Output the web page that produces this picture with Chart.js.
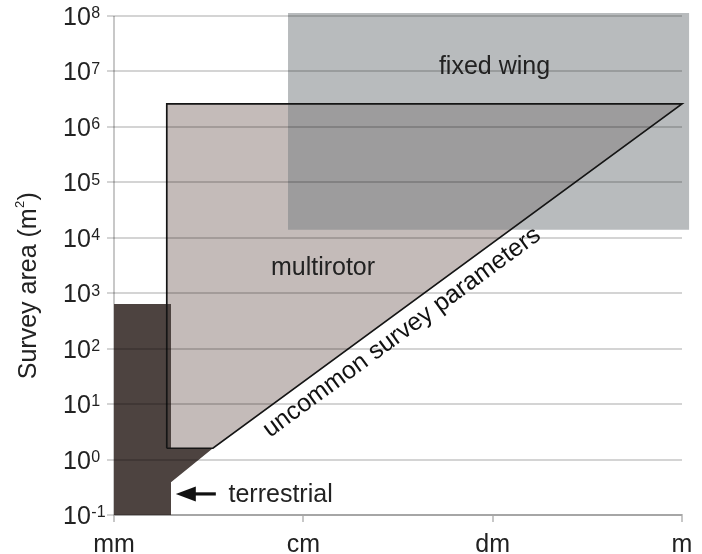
<!DOCTYPE html>
<html><head><meta charset="utf-8">
<script src="https://cdn.jsdelivr.net/npm/chart.js@4"></script>
<style>html,body{margin:0;padding:0;background:#fff}#wrap{width:702px;height:554px}</style>
</head><body><div id="wrap"><canvas id="c" width="702" height="554"></canvas></div>
<script>
// ---- data ----
const xTickValues = [1e-3, 1e-2, 1e-1, 1];
const xTickLabels = ['mm', 'cm', 'dm', 'm'];
const yTickValues = [1e-1, 1e0, 1e1, 1e2, 1e3, 1e4, 1e5, 1e6, 1e7, 1e8];
const yTickExponents = ['-1', '0', '1', '2', '3', '4', '5', '6', '7', '8'];

const terrestrialX = [1e-3, 1e-3, 2.0e-3, 2.0e-3, 3.33e-3, 2.0e-3, 2.0e-3, 1e-3];
const terrestrialY = [0.1, 640, 640, 1.6, 1.6, 0.39, 0.1, 0.1];
const multirotorX = [1.9e-3, 1.9e-3, 1, 3.33e-3, 1.9e-3];
const multirotorY = [1.6, 2.6e6, 2.6e6, 1.6, 1.6];
const fixedWingX = [8.3e-3, 8.3e-3, 1.09, 1.09, 8.3e-3];
const fixedWingY = [1.4e4, 1.13e8, 1.13e8, 1.4e4, 1.4e4];

const arrowX = [2.12e-3, 3.45e-3];
const arrowY = [0.24, 0.24];

const FONT = '"Liberation Sans", Arial, sans-serif';
Chart.defaults.font.family = FONT;

const pts = (xs, ys) => xs.map((x, i) => ({x: x, y: ys[i]}));

// let the fills reach slightly past the plot frame (fixed wing box overshoots)
const expandArea = {
  id: 'expandArea',
  beforeDatasetsDraw(chart) {
    const a = chart.chartArea;
    chart.$savedArea = a;
    chart.chartArea = {left: a.left - 10, top: a.top - 10, right: a.right + 14, bottom: a.bottom + 10,
      width: a.width + 24, height: a.height + 20};
  },
  afterDatasetsDraw(chart) {
    if (chart.$savedArea) chart.chartArea = chart.$savedArea;
  }
};

const annotations = {
  id: 'annotations',
  afterDraw(chart) {
    const ctx = chart.ctx;
    const xS = chart.scales.x, yS = chart.scales.y;
    ctx.save();
    ctx.fillStyle = '#222';
    ctx.textBaseline = 'alphabetic';
    // y tick labels 10^n
    const lx = yS.left - 44;
    yTickValues.forEach((v, i) => {
      const py = yS.getPixelForValue(v);
      ctx.font = '25px ' + FONT;
      ctx.textAlign = 'left';
      ctx.fillText('10', lx, py + 9);
      const w = ctx.measureText('10').width;
      ctx.font = '16px ' + FONT;
      ctx.fillText(yTickExponents[i], lx + w + 0.5, py + 2.3);
    });
    // y axis title
    ctx.save();
    ctx.translate(36, 286);
    ctx.rotate(-Math.PI / 2);
    ctx.font = '25px ' + FONT;
    const t1 = 'Survey area (m', t3 = ')';
    const w1 = ctx.measureText(t1).width, w3 = ctx.measureText(t3).width;
    ctx.font = '13px ' + FONT;
    const w2 = ctx.measureText('2').width;
    const start = -(w1 + w2 + w3) / 2;
    ctx.textAlign = 'left';
    ctx.font = '25px ' + FONT;
    ctx.fillText(t1, start, 0);
    ctx.fillText(t3, start + w1 + w2 + 0.5, 0);
    ctx.font = '13px ' + FONT;
    ctx.fillText('2', start + w1 + 0.3, -12.5);
    ctx.restore();

    // region labels
    ctx.font = '25px ' + FONT;
    ctx.textAlign = 'center';
    ctx.fillText('fixed wing', 494.5, 74);
    ctx.fillText('multirotor', 323, 275);
    ctx.textAlign = 'left';
    ctx.fillText('terrestrial', 228.5, 502);

    // arrow
    const ax0 = xS.getPixelForValue(arrowX[0]), ax1 = xS.getPixelForValue(arrowX[1]);
    const ay = yS.getPixelForValue(arrowY[0]);
    ctx.fillStyle = '#111';
    ctx.beginPath();
    ctx.moveTo(ax0, ay);
    ctx.lineTo(ax0 + 20, ay - 7.5);
    ctx.lineTo(ax0 + 20, ay + 7.5);
    ctx.closePath();
    ctx.fill();
    ctx.fillRect(ax0 + 18, ay - 1.6, ax1 - ax0 - 18, 3.2);

    // rotated label along the diagonal
    const p1x = xS.getPixelForValue(multirotorX[3]), p1y = yS.getPixelForValue(multirotorY[3]);
    const p2x = xS.getPixelForValue(multirotorX[2]), p2y = yS.getPixelForValue(multirotorY[2]);
    const ang = Math.atan2(p2y - p1y, p2x - p1x);
    ctx.save();
    ctx.translate(406, 338);
    ctx.rotate(ang);
    ctx.fillStyle = '#111';
    ctx.font = '25px ' + FONT;
    ctx.textAlign = 'center';
    ctx.fillText('uncommon survey parameters', 0, 0);
    ctx.restore();
    ctx.restore();
  }
};

const chart = new Chart(document.getElementById('c'), {
  type: 'scatter',
  data: {
    datasets: [
      { // multirotor outline (top)
        label: 'multirotor outline', data: pts(multirotorX, multirotorY), showLine: true,
        borderColor: '#151515', borderWidth: 1.7, fill: false, pointRadius: 0, tension: 0,
        order: 1, clip: false
      },
      { // fixed wing (translucent)
        label: 'fixed wing', data: pts(fixedWingX, fixedWingY), showLine: true,
        borderWidth: 0, borderColor: 'rgba(0,0,0,0)', backgroundColor: 'rgba(124,129,133,0.54)',
        fill: 'shape', pointRadius: 0, tension: 0, order: 2, clip: false
      },
      { // terrestrial
        label: 'terrestrial', data: pts(terrestrialX, terrestrialY), showLine: true,
        borderWidth: 0, borderColor: 'rgba(0,0,0,0)', backgroundColor: '#4d4340',
        fill: 'shape', pointRadius: 0, tension: 0, order: 3, clip: false
      },
      { // multirotor fill
        label: 'multirotor', data: pts(multirotorX, multirotorY), showLine: true,
        borderWidth: 0, borderColor: 'rgba(0,0,0,0)', backgroundColor: '#c4bbb9',
        fill: 'shape', pointRadius: 0, tension: 0, order: 4, clip: false
      }
    ]
  },
  options: {
    responsive: false,
    animation: false,
    devicePixelRatio: 1,
    layout: { padding: { left: 107, right: 20, top: 16, bottom: 0 } },
    plugins: { legend: { display: false }, tooltip: { enabled: false } },
    scales: {
      x: {
        type: 'logarithmic', min: 1e-3, max: 1,
        afterBuildTicks: (s) => { s.ticks = xTickValues.map(v => ({value: v})); },
        afterFit: (s) => { s.height = 39; },
        grid: {
          drawOnChartArea: true, drawTicks: true, tickLength: 7, lineWidth: 2,
          color: (c) => c.index === 0 ? '#c8c8c8' : 'rgba(0,0,0,0)',
          tickColor: 'rgba(0,0,0,0.22)'
        },
        border: { display: true, color: '#c8c8c8', width: 2 },
        ticks: {
          autoSkip: false, maxRotation: 0, padding: 8, color: '#222', font: { size: 25 },
          callback: (v, i) => xTickLabels[i]
        }
      },
      y: {
        type: 'logarithmic', min: 0.1, max: 1e8,
        afterBuildTicks: (s) => { s.ticks = yTickValues.map(v => ({value: v})); },
        afterFit: (s) => { s.width = 7; },
        grid: { drawTicks: true, tickLength: 7, color: 'rgba(0,0,0,0.17)', lineWidth: 2, z: 1 },
        border: { display: false },
        ticks: { display: false }
      }
    }
  },
  plugins: [expandArea, annotations]
});
</script>
</body></html>
